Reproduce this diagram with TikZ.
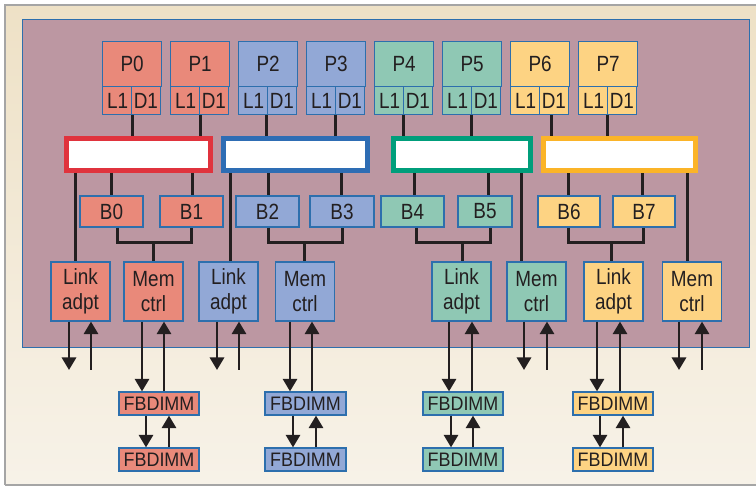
\documentclass[tikz,border=0pt]{standalone}
\usepackage{fontspec}
\setmainfont{Liberation Sans}[FakeStretch=0.86]
\newfontfamily\fbfont{Liberation Sans}[FakeStretch=0.92]
\usetikzlibrary{arrows.meta,calc}
\definecolor{cRed}{HTML}{E9897A}
\definecolor{cBlue}{HTML}{92A8D6}
\definecolor{cGreen}{HTML}{8FC8B4}
\definecolor{cYel}{HTML}{FDD383}
\definecolor{bRed}{HTML}{E0333D}
\definecolor{bBlue}{HTML}{2E6DB4}
\definecolor{bGreen}{HTML}{009E7B}
\definecolor{bYel}{HTML}{FBB428}
\definecolor{die}{HTML}{BC97A2}
\definecolor{edge}{HTML}{2D6FAD}
\definecolor{ink}{HTML}{231F20}
\definecolor{bgTop}{HTML}{EEE1C6}
\definecolor{bgBot}{HTML}{F7F2E8}
\definecolor{frameC}{HTML}{A5A5A5}
\newcommand\vconn[4][wire]{\coordinate (vx) at (#2,0); \draw[#1] (vx |- #3) -- (vx |- #4);}
\begin{document}
\begin{tikzpicture}[x=1pt,y=-1pt,
  box/.style={draw=edge, line width=1.2pt, inner sep=0pt, text=ink, align=center,
    font=\fontsize{22}{25}\selectfont},
  fbbox/.style={draw=edge, line width=1.2pt, inner sep=0pt, text=ink,
    font=\fbfont\fontsize{19.5}{20}\selectfont, minimum width=80pt, minimum height=23pt},
  bus/.style={draw=#1, line width=5pt, fill=white, minimum height=32pt, inner sep=0pt},
  wire/.style={draw=ink, line width=3pt},
  arr/.style={draw=ink, line width=2.8pt, -{Triangle[width=14pt,length=12.5pt]}},
  bbox/.style={box, minimum height=31pt},
  lbox/.style={box, minimum width=59pt, minimum height=59pt}]
\useasboundingbox (0,0) rectangle (756,486);
\fill[white] (0,0) rectangle (756,486);
\shade[top color=bgTop, bottom color=bgBot] (5,5) rectangle (770,485);
\draw[frameC, line width=1.2pt] (5,485) -- (5,5) -- (770,5);
\draw[frameC, line width=1.2pt] (5,485) -- (770,485);
\fill[die] (22,20) rectangle (749,348);
\draw[edge, line width=1pt] (22,20) rectangle (749,348);

% processors
\foreach \i/\c in {0/cRed,1/cRed,2/cBlue,3/cBlue,4/cGreen,5/cGreen,6/cYel,7/cYel}{
  \pgfmathsetmacro\L{102+68*\i}
  \node[box, fill=\c, minimum width=59pt, minimum height=45pt, anchor=north west] (p\i) at (\L,41) {P\i};
  \node[box, fill=\c, minimum width=30pt, minimum height=28pt, anchor=north west] (l\i) at (\L,86) {L1};
  \node[box, fill=\c, minimum width=29pt, minimum height=28pt, anchor=north east] (d\i) at (\L+59,86) {D1};
}

% buses
\node[bus=bRed,   minimum width=144pt] (bus0) at (138.5,154.5) {};
\node[bus=bBlue,  minimum width=144pt] (bus1) at (295.5,154.5) {};
\node[bus=bGreen, minimum width=137pt] (bus2) at (462,155) {};
\node[bus=bYel,   minimum width=152pt] (bus3) at (619.5,155) {};

% buffers
\node[bbox, fill=cRed,   minimum width=63pt] (b0) at (111.5,211.5) {B0};
\node[bbox, fill=cRed,   minimum width=63pt] (b1) at (191.5,211.5) {B1};
\node[bbox, fill=cBlue,  minimum width=63pt] (b2) at (267.5,211.5) {B2};
\node[bbox, fill=cBlue,  minimum width=64pt] (b3) at (342,211.5) {B3};
\node[bbox, fill=cGreen, minimum width=63pt] (b4) at (412.5,211.5) {B4};
\node[bbox, fill=cGreen, minimum width=54pt] (b5) at (485,211.5) {B5};
\node[bbox, fill=cYel,   minimum width=62pt] (b6) at (569,211.5) {B6};
\node[bbox, fill=cYel,   minimum width=62pt] (b7) at (644,211.5) {B7};

% link adapters and memory controllers
\node[lbox, fill=cRed]   (lk0) at (80.5,291.5)  {Link\\adpt};
\node[lbox, fill=cRed]   (mc0) at (153.5,291.5) {Mem\\ctrl};
\node[lbox, fill=cBlue]  (lk1) at (228.5,291.5) {Link\\adpt};
\node[lbox, fill=cBlue]  (mc1) at (305,291.5)   {Mem\\ctrl};
\node[lbox, fill=cGreen] (lk2) at (461.5,291.5) {Link\\adpt};
\node[lbox, fill=cGreen] (mc2) at (536.5,291.5) {Mem\\ctrl};
\node[lbox, fill=cYel]   (lk3) at (613.5,291.5) {Link\\adpt};
\node[lbox, fill=cYel]   (mc3) at (692,291.5)   {Mem\\ctrl};

% FBDIMMs
\node[fbbox, fill=cRed]   (fa0) at (159,403.5)   {FBDIMM};
\node[fbbox, fill=cRed]   (fb0) at (159,459.5)   {FBDIMM};
\node[fbbox, fill=cBlue, minimum width=81pt] (fa1) at (305.5,403.5) {FBDIMM};
\node[fbbox, fill=cBlue, minimum width=81pt] (fb1) at (305.5,459.5) {FBDIMM};
\node[fbbox, fill=cGreen] (fa2) at (463,403.5)   {FBDIMM};
\node[fbbox, fill=cGreen] (fb2) at (463,459.5)   {FBDIMM};
\node[fbbox, fill=cYel]   (fa3) at (613,403.5)   {FBDIMM};
\node[fbbox, fill=cYel]   (fb3) at (613,459.5)   {FBDIMM};

% processor to bus
\foreach \x/\i/\b in {132/0/0,200/1/0,266/2/1,335/3/1,403/4/2,471/5/2,551/6/3,607/7/3}{
  \vconn{\x}{l\i.south}{bus\b.north}
}
% bus down
\foreach \x/\b/\t in {75/0/lk0,111/0/b0,192/0/b1,230/1/lk1,268/1/b2,341/1/b3,
                      414/2/b4,488/2/b5,521/2/mc2,568/3/b6,642/3/b7,687/3/mc3}{
  \vconn{\x}{bus\b.south}{\t.north}
}
% buffer pairs to controllers
\coordinate (hy) at (0,243);
\foreach \xa/\xb/\xm/\ba/\bb/\t in {117/191/153/b0/b1/mc0,268/342/304/b2/b3/mc1,
                                     416/490/462/b4/b5/lk2,568/643/611/b6/b7/lk3}{
  \coordinate (va) at (\xa,0); \coordinate (vb) at (\xb,0); \coordinate (vm) at (\xm,0);
  \draw[wire] (va |- \ba.south) -- (va |- hy) -- (vb |- hy) -- (vb |- \bb.south);
  \draw[wire] (vm |- hy) -- (vm |- \t.north);
}
% free arrows
\coordinate (ey) at (0,370);
\foreach \xd/\xu/\s in {69/91/lk0,217/239/lk1,524/547/mc2,679/702/mc3}{
  \coordinate (vd) at (\xd,0); \coordinate (vu) at (\xu,0);
  \draw[arr] (vd |- \s.south) -- (vd |- ey);
  \draw[arr] (vu |- ey) -- (vu |- \s.south);
}
% arrows to FBDIMMs
\foreach \xd/\xu/\s/\t in {142/164/mc0/fa0,290/312/mc1/fa1,449/472/lk2/fa2,597/620/lk3/fa3,
                           146/169/fa0/fb0,293/316/fa1/fb1,451/473/fa2/fb2,600/623/fa3/fb3}{
  \coordinate (vd) at (\xd,0); \coordinate (vu) at (\xu,0);
  \draw[arr] (vd |- \s.south) -- (vd |- \t.north);
  \draw[arr] (vu |- \t.north) -- (vu |- \s.south);
}
\end{tikzpicture}
\end{document}
